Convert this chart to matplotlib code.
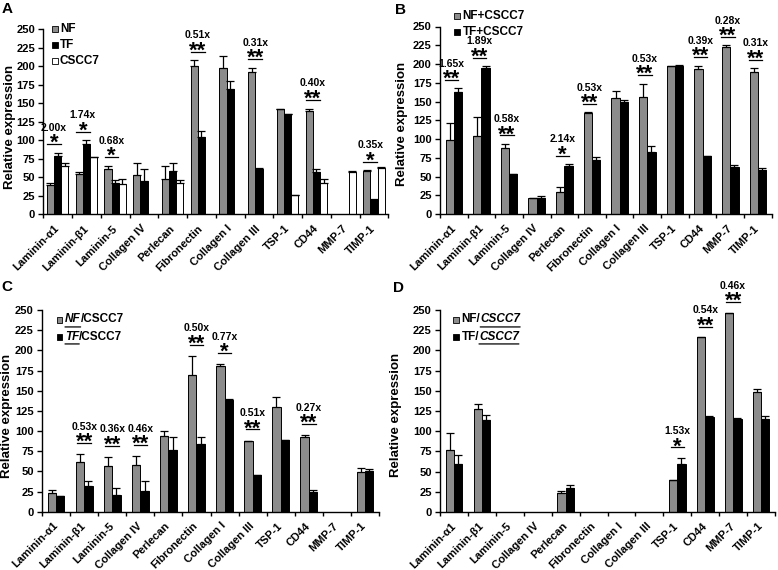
import numpy as np
import matplotlib
matplotlib.use('Agg')
import matplotlib.pyplot as plt
from matplotlib.patches import Rectangle

plt.rcParams['font.family'] = ['Liberation Sans Narrow', 'Liberation Sans', 'DejaVu Sans']
plt.rcParams['font.weight'] = 'bold'

W, H = 778, 570
nan = np.nan

genes = ['Laminin-α1', 'Laminin-β1', 'Laminin-5', 'Collagen IV', 'Perlecan', 'Fibronectin',
         'Collagen I', 'Collagen III', 'TSP-1', 'CD44', 'MMP-7', 'TIMP-1']

# A - NF, TF and CSCC7 alone
a_nf = [40, 54, 61, 53, 48, 201, 198, 193, 143, 140, nan, 59]
a_nf_err = [3, 3, 5, 17, 18, 7, 16, 5, 0, 3, nan, 0.5]
a_tf = [79, 95, 42, 45, 59, 104, 169, 61, 135, 58, nan, 20]
a_tf_err = [4, 5, 4, 16, 11, 9, 11, 2, 0, 3, nan, 1]
a_cscc = [66, 78, 41, nan, 42, nan, nan, nan, 26, 43, 57, 63]
a_cscc_err = [4, 0, 7, nan, 5, nan, nan, nan, 0, 5, 1.5, 0.5]
a_marks = [(0, '2.00x', '*'), (1, '1.74x', '*'), (2, '0.68x', '*'), (5, '0.51x', '**'),
           (7, '0.31x', '**'), (9, '0.40x', '**'), (11, '0.35x', '*')]

# B - co-cultures, total
b_nf = [99, 104, 88, 21, 30, 135, 155, 156, 197, 193, 223, 189]
b_nf_err = [23, 25, 6, 0.5, 6, 0.5, 9, 18, 0, 5, 2, 6]
b_tf = [163, 195, 53, 22, 64, 72, 149, 83, 197, 77, 63, 59]
b_tf_err = [5, 2.5, 0.5, 2, 3, 4, 3, 8, 1.5, 0, 2, 2]
b_marks = [(0, '1.65x', '**'), (1, '1.89x', '**'), (2, '0.58x', '**'), (4, '2.14x', '*'),
           (5, '0.53x', '**'), (7, '0.53x', '**'), (9, '0.39x', '**'), (10, '0.28x', '**'),
           (11, '0.31x', '**')]

# C - fibroblast fraction
c_nf = [23, 61, 57, 58, 94, 170, 180, 88, 130, 92, nan, 49]
c_nf_err = [4, 10, 11, 11, 6, 23, 3, 0, 12, 3, nan, 5]
c_tf = [19, 32, 21, 26, 77, 84, 138, 46, 89, 24, nan, 51]
c_tf_err = [0, 6, 8, 12, 15, 9, 2, 0, 0, 3, nan, 1.5]
c_marks = [(1, '0.53x', '**'), (2, '0.36x', '**'), (3, '0.46x', '**'), (5, '0.50x', '**'),
           (6, '0.77x', '*'), (7, '0.51x', '**'), (9, '0.27x', '**')]

# D - CSCC7 fraction
d_nf = [77, 127, nan, nan, 23, nan, nan, nan, 39, 216, 246, 148]
d_nf_err = [21, 7, nan, nan, 3, nan, nan, nan, 0, 0.5, 0.5, 4]
d_tf = [60, 114, nan, nan, 30, nan, nan, nan, 59, 118, 115, 115]
d_tf_err = [10, 6, nan, nan, 4, nan, nan, nan, 8, 0.5, 1, 3.5]
d_marks = [(8, '1.53x', '*'), (9, '0.54x', '**'), (10, '0.46x', '**')]

GREY = '#8c8c8c'


def make_axes(fig, left, top, right, bottom):
    ax = fig.add_axes([left / W, 1 - bottom / H, (right - left) / W, (bottom - top) / H])
    return ax


def style(ax):
    n = len(genes)
    ax.set_xlim(0, n)
    ax.set_ylim(0, 250)
    ax.set_yticks(np.arange(0, 251, 25))
    ax.spines['top'].set_visible(False)
    ax.spines['right'].set_visible(False)
    ax.spines['left'].set_linewidth(1)
    ax.spines['bottom'].set_linewidth(1)
    ax.set_xticks(np.arange(n + 1))
    ax.set_xticklabels([])
    ax.set_xticks(np.arange(n) + 0.5, minor=True)
    ax.set_xticklabels(genes, minor=True, rotation=45, ha='right', va='center',
                       rotation_mode='anchor', fontsize=8, fontweight='bold')
    ax.tick_params(axis='x', which='major', direction='out', length=3, width=1)
    ax.tick_params(axis='x', which='minor', length=0, pad=9)
    ax.tick_params(axis='y', direction='out', length=3.5, width=1, pad=2.5, labelsize=8)
    for t in ax.get_yticklabels():
        t.set_fontweight('bold')


def bars(ax, values, errs, color, offset, width):
    x = np.arange(len(genes)) + 0.5 + offset
    v = np.array(values, dtype=float)
    e = np.array(errs, dtype=float)
    ax.bar(x, v, width, color=color, edgecolor='black', linewidth=0.7, zorder=2)
    ax.errorbar(x, v, yerr=[np.zeros_like(e), e], fmt='none', ecolor='black',
                elinewidth=0.9, capsize=3, capthick=0.9, zorder=3)


def marks(ax, items, tops, center_off, gap):
    for i, ratio, stars in items:
        xc = i + 0.5 + center_off
        y = tops[i] + gap
        ax.plot([xc - 0.24, xc + 0.24], [y, y], color='black', lw=0.9, clip_on=False)
        ax.annotate(stars, (xc, y), xytext=(0, -3.5), textcoords='offset points',
                    ha='center', va='baseline', fontsize=16, fontweight='bold',
                    annotation_clip=False)
        ax.annotate(ratio, (xc, y), xytext=(0, 9.5), textcoords='offset points',
                    ha='center', va='baseline', fontsize=7.5, fontweight='bold',
                    annotation_clip=False)


def tops_of(*pairs):
    arr = [np.array(v, dtype=float) + np.nan_to_num(np.array(e, dtype=float)) for v, e in pairs]
    return np.nanmax(np.vstack(arr), axis=0)


def legend_row(fig, ax, x, y, color, parts):
    s = 6
    fig.add_artist(Rectangle((x / W, 1 - (y + s / 2) / H), s / W, s / H,
                             transform=fig.transFigure, facecolor=color,
                             edgecolor='black', linewidth=0.6))
    prev = None
    for txt, ital, under in parts:
        style_ = 'italic' if ital else 'normal'
        if prev is None:
            t = fig.text((x + s + 2.5) / W, 1 - y / H, txt, ha='left', va='center',
                         fontsize=8.5, fontweight='bold', fontstyle=style_)
        else:
            t = ax.annotate(txt, xy=(1, 0), xycoords=prev, ha='left', va='bottom',
                            fontsize=8.5, fontweight='bold', fontstyle=style_,
                            annotation_clip=False)
        if under:
            ax.annotate('', xy=(0, -0.12), xycoords=t, xytext=(1, -0.12), textcoords=t,
                        arrowprops=dict(arrowstyle='-', lw=0.9, shrinkA=0, shrinkB=0,
                                        color='black'),
                        annotation_clip=False)
        prev = t


fig = plt.figure(figsize=(W / 100, H / 100), dpi=100)

# Panel A
axA = make_axes(fig, 43.3, 29.3, 388.3, 214.5)
style(axA)
bars(axA, a_nf, a_nf_err, GREY, -0.25, 0.25)
bars(axA, a_tf, a_tf_err, 'black', 0.0, 0.25)
bars(axA, a_cscc, a_cscc_err, 'white', 0.25, 0.25)
marks(axA, a_marks, tops_of((a_nf, a_nf_err), (a_tf, a_tf_err)), -0.125, 12)
legend_row(fig, axA, 51.5, 29, GREY, [('NF', False, False)])
legend_row(fig, axA, 51.5, 45, 'black', [('TF', False, False)])
legend_row(fig, axA, 51.5, 61, 'white', [('CSCC7', False, False)])

# Panel B
axB = make_axes(fig, 440, 26.5, 771.7, 214.2)
style(axB)
bars(axB, b_nf, b_nf_err, GREY, -0.15, 0.3)
bars(axB, b_tf, b_tf_err, 'black', 0.15, 0.3)
marks(axB, b_marks, tops_of((b_nf, b_nf_err), (b_tf, b_tf_err)), -0.08, 11)
legend_row(fig, axB, 454, 16, GREY, [('NF+CSCC7', False, False)])
legend_row(fig, axB, 454, 32, 'black', [('TF+CSCC7', False, False)])

# Panel C
axC = make_axes(fig, 42, 310, 379, 511.7)
style(axC)
bars(axC, c_nf, c_nf_err, GREY, -0.15, 0.3)
bars(axC, c_tf, c_tf_err, 'black', 0.15, 0.3)
marks(axC, c_marks, tops_of((c_nf, c_nf_err), (c_tf, c_tf_err)), 0.0, 14)
legend_row(fig, axC, 56.5, 319.5, GREY, [('NF', True, True), ('/CSCC7', False, False)])
legend_row(fig, axC, 56.5, 336.5, 'black', [('TF', True, True), ('/CSCC7', False, False)])

# Panel D
axD = make_axes(fig, 440, 310, 775, 512)
style(axD)
bars(axD, d_nf, d_nf_err, GREY, -0.15, 0.3)
bars(axD, d_tf, d_tf_err, 'black', 0.15, 0.3)
marks(axD, d_marks, tops_of((d_nf, d_nf_err), (d_tf, d_tf_err)), 0.0, 13)
legend_row(fig, axD, 453, 319.5, GREY, [('NF/', False, False), ('CSCC7', True, True)])
legend_row(fig, axD, 453, 336.5, 'black', [('TF/', False, False), ('CSCC7', True, True)])

# y labels and panel letters
for (x, y) in [(10, 127), (402, 124), (7, 416), (396, 415)]:
    fig.text(x / W, 1 - y / H, 'Relative expression', rotation=90, ha='center', va='center',
             fontsize=9.5, fontweight='bold')
for letter, (x, y) in zip('ABCD', [(7, 9), (400, 10), (7, 287), (399, 288)]):
    fig.text(x / W, 1 - y / H, letter, ha='center', va='center', fontsize=11,
             fontweight='bold')

fig.savefig('out.png', dpi=100)
